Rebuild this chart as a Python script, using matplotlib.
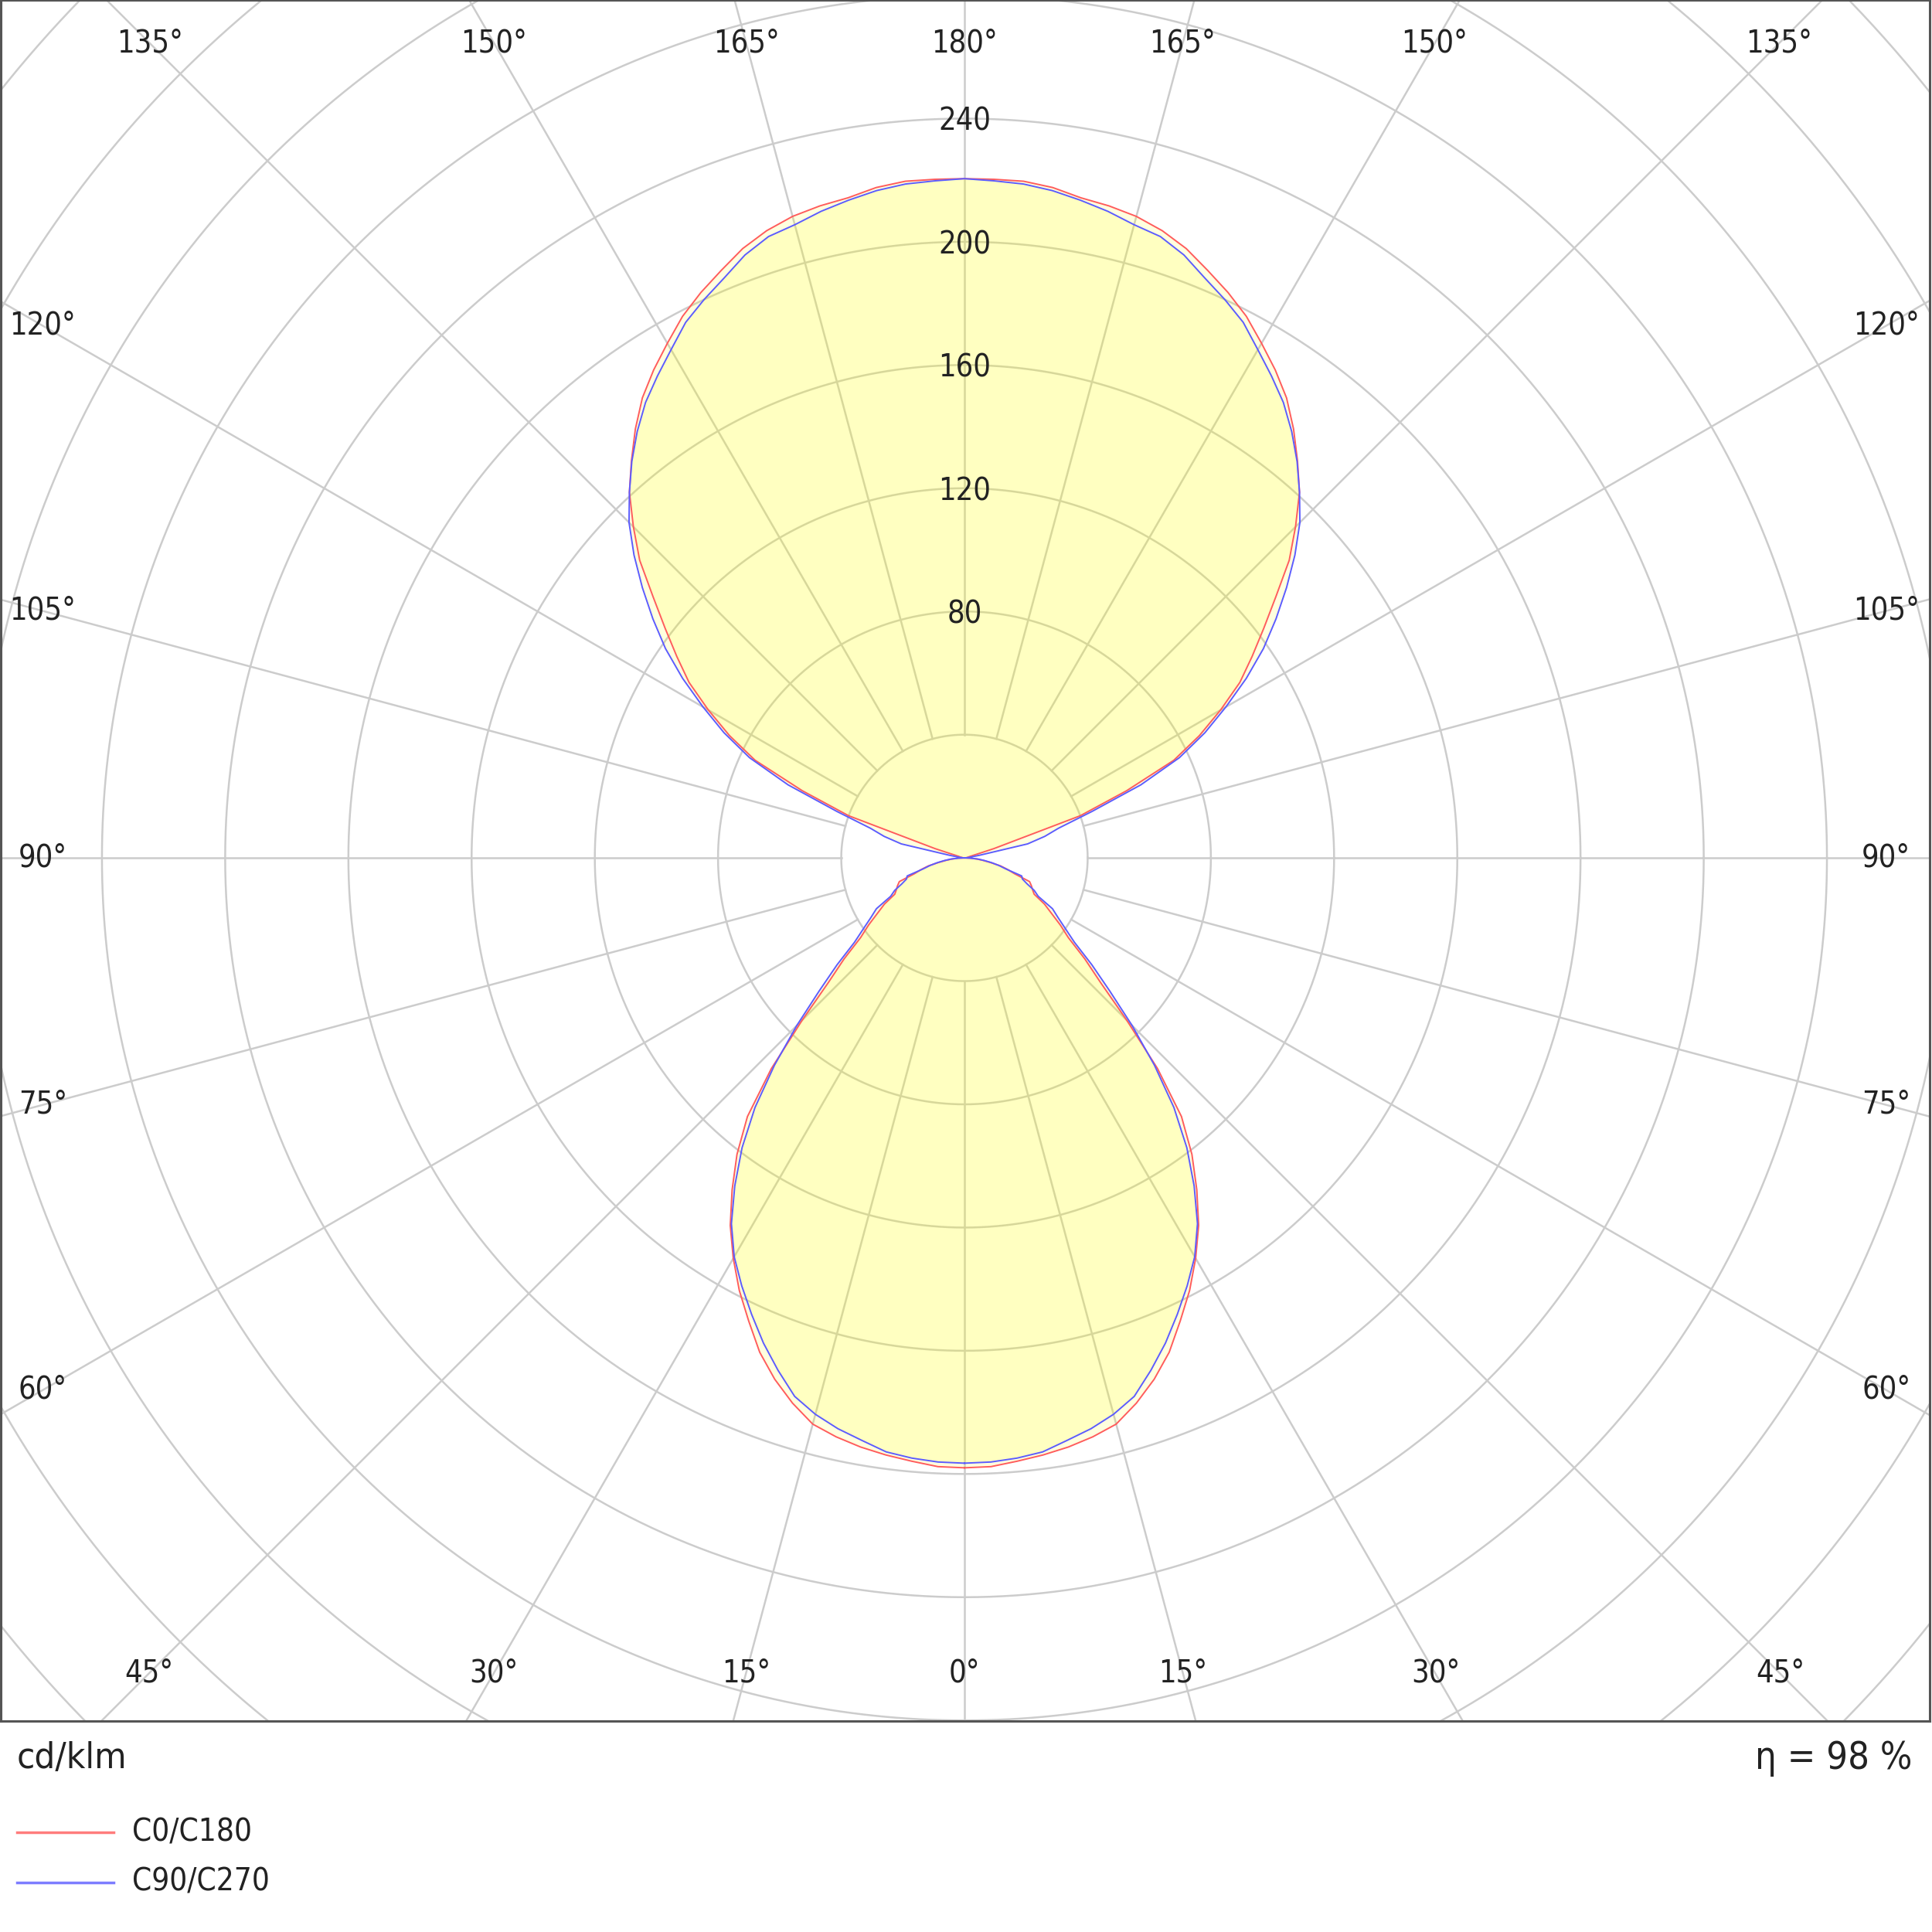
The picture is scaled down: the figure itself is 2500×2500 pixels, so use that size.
import numpy as np
import matplotlib
matplotlib.use("Agg")
import matplotlib.pyplot as plt
from matplotlib.lines import Line2D

# ---------------- data (cd/klm) ----------------
# vertical angle gamma: 0 = straight down, 180 = straight up, step 2.5 deg
gamma = [i * 2.5 for i in range(73)]
c0_c180 = [198, 197.8, 196.6, 195.5, 194.2, 192.5, 190.3, 185.6, 180.1, 173.7,
           165.8, 158.3, 150.1, 141.5, 131.5, 121.3, 109.6, 92.8, 74.5, 60,
           51, 42.5, 38, 33.5, 30, 25.5, 24.4, 23.5, 22.5, 17,
           14.5, 12, 8.5, 6, 4, 2, 0,
           0.3, 0.5, 0.8, 1, 1.5, 2, 10, 40, 57,
           75, 86, 96, 106, 114, 122.5, 132, 143, 152, 161,
           168.2, 175.5, 182.3, 187.8, 192.9, 198.2, 202.5, 206.4, 210.5, 213.5,
           215.6, 216.8, 217.6, 219.5, 220.5, 220.5, 220.5]
c90_c270 = [196.5, 196.3, 195.6, 194.5, 192, 189.8, 187, 183.3, 177, 170.5,
            163.5, 156.6, 149.5, 140.8, 130, 118.6, 105.8, 91.3, 77, 64,
            54, 45, 40, 36, 33, 27, 25, 22, 20, 19.5,
            14, 11.5, 9, 6.5, 4.5, 2, 0,
            0.5, 1, 2, 5, 21, 27, 32, 44, 62,
            77, 88, 98, 108.5, 118.5, 127.5, 136.5, 145.5, 154, 161,
            168, 174.5, 180.5, 185.5, 190.5, 196, 200, 203.8, 208.3, 211.5,
            212.8, 215, 216.8, 218.5, 219.6, 220, 220.5]
series_names = ["C0/C180", "C90/C270"]
series_colors = ["#ff5c5c", "#5c5cff"]

ring_values = list(range(40, 481, 40))
ring_label_values = [80, 120, 160, 200, 240]
spoke_angles = list(range(0, 360, 15))
label_angles = list(range(0, 181, 15))
unit_text = "cd/klm"
eta_text = "η = 98 %"

plt.rcParams["font.family"] = ["DejaVu Sans"]
FS = "condensed"
TXT = "#222222"

W = H = 2500
fig = plt.figure(figsize=(W / 100, H / 100), dpi=100)
ax = fig.add_axes([1 / W, (H - 2227) / H, 2496 / W, 2227 / H])
ax.set_xlim(-312.85, 313.35)
ax.set_ylim(-280.2, 278.5)
ax.set_xticks([])
ax.set_yticks([])
for s in ax.spines.values():
    s.set_color("#555555")
    s.set_linewidth(2.2)
    s.set_zorder(10)

grid_col = "#cccccc"
t = np.linspace(0, 2 * np.pi, 1441)
for r in ring_values:
    ax.plot(r * np.cos(t), r * np.sin(t), color=grid_col, lw=1.8, zorder=1)
for a in spoke_angles:
    ar = np.radians(a)
    ax.plot([40 * np.sin(ar), 600 * np.sin(ar)], [-40 * np.cos(ar), -600 * np.cos(ar)],
            color=grid_col, lw=1.8, zorder=1)

for v in ring_label_values:
    ax.text(0, v, str(v), ha="center", va="center_baseline", fontsize=28.5,
            fontstretch=FS, color=TXT, zorder=3.5)

# angle labels along spokes, inset from the frame
XIN, YTOP, YBOT = 299.2, 264.4, 264.8
for a in label_angles:
    ar = np.radians(a)
    for side in ([1] if a in (0, 180) else [1, -1]):
        sx, cy = side * np.sin(ar), -np.cos(ar)
        cands = []
        if abs(sx) > 1e-9:
            cands.append(XIN / abs(sx))
        if abs(cy) > 1e-9:
            cands.append((YTOP if cy > 0 else YBOT) / abs(cy))
        tt = min(cands)
        ax.text(tt * sx, tt * cy, f"{a}°", ha="center", va="center", fontsize=28.5,
                fontstretch=FS, color=TXT, zorder=5)

g = np.radians(np.array(gamma, dtype=float))
for vals, col in zip([c0_c180, c90_c270], series_colors):
    I = np.array(vals, dtype=float)
    xr, yr = I * np.sin(g), -I * np.cos(g)
    xs = np.concatenate([xr, -xr[::-1]])
    ys = np.concatenate([yr, yr[::-1]])
    ax.fill(xs, ys, color="#ffff00", alpha=0.13, lw=0, zorder=3)
    ax.plot(xs, ys, color=col, lw=1.4, zorder=4)

# texts below the frame
fig.text(22 / W, 1 - 2275 / H, unit_text, ha="left", va="center", fontsize=34,
         fontstretch=FS, color=TXT)
fig.text(2474 / W, 1 - 2275 / H, eta_text, ha="right", va="center", fontsize=35,
         fontstretch=FS, color=TXT)
for i, (name, col) in enumerate(zip(series_names, series_colors)):
    yy = 1 - (2371 + 65 * i) / H
    fig.add_artist(Line2D([22 / W, 147 / W], [yy, yy], transform=fig.transFigure,
                          color=col, lw=2.5, alpha=0.8))
    fig.text(171 / W, yy, name, ha="left", va="center", fontsize=29,
             fontstretch=FS, color=TXT)

fig.savefig("out.png", dpi=100, facecolor="white")
